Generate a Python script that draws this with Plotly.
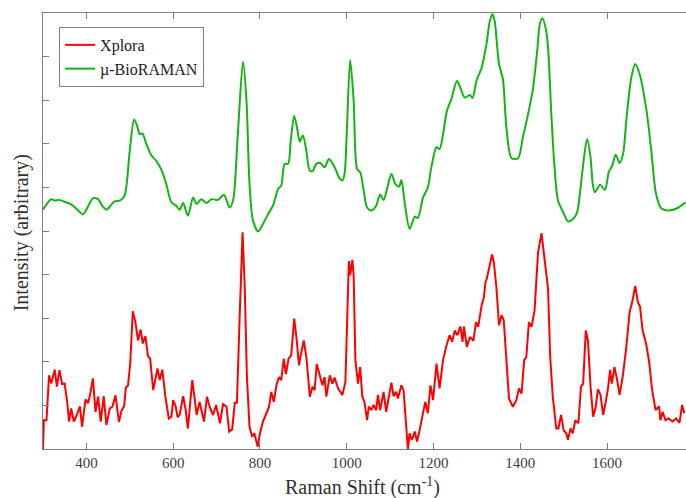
import plotly.graph_objects as go

# Raman shift (cm^-1) and intensity (arbitrary units, as plotted with offset)
xplora_shift = [300, 302, 308, 314, 319, 327, 332, 338, 344, 350, 356, 360, 365, 371, 378, 385, 390, 398, 404, 409,
                415, 421, 427, 433, 440, 446, 454, 460, 467, 475, 481, 487, 491, 496, 501, 507, 513, 519, 525, 530,
                536, 542, 547, 554, 564, 569, 575, 582, 590, 596, 600, 606, 610, 615, 623, 629, 634, 640, 644, 650,
                654, 661, 666, 671, 678, 684, 692, 699, 703, 708, 715, 723, 729, 736, 742, 747, 753, 760, 765, 770,
                776, 782, 787, 795, 800, 807, 815, 821, 826, 832, 838, 844, 849, 855, 860, 866, 872, 879, 884, 890,
                894, 901, 907, 915, 921, 926, 931, 938, 944, 949, 953, 961, 967, 972, 980, 990, 997, 1001, 1005, 1008,
                1013, 1016, 1020, 1026, 1031, 1036, 1041, 1047, 1051, 1057, 1062, 1068, 1072, 1077, 1085, 1091, 1097, 1103, 1108, 1114,
                1118, 1126, 1131, 1136, 1141, 1145, 1150, 1157, 1162, 1168, 1174, 1181, 1187, 1193, 1199, 1207, 1214, 1222, 1229, 1237,
                1243, 1249, 1255, 1262, 1267, 1270, 1277, 1284, 1292, 1298, 1303, 1311, 1316, 1320, 1323, 1328, 1335, 1339, 1345, 1351,
                1357, 1362, 1368, 1374, 1383, 1391, 1397, 1403, 1409, 1414, 1420, 1426, 1433, 1441, 1449, 1456, 1464, 1469, 1475, 1483,
                1488, 1494, 1500, 1506, 1510, 1516, 1521, 1527, 1534, 1540, 1545, 1551, 1556, 1562, 1568, 1574, 1579, 1585, 1591, 1597,
                1602, 1607, 1611, 1617, 1622, 1629, 1636, 1644, 1652, 1658, 1665, 1671, 1676, 1682, 1690, 1697, 1704, 1712, 1720, 1723,
                1728, 1735, 1742, 1751, 1759, 1767, 1773, 1778]
xplora_int = [0.00, 0.66, 0.66, 1.69, 1.50, 1.82, 1.43, 1.81, 1.49, 1.50, 1.05, 0.63, 0.93, 0.63, 0.78, 0.98, 0.51, 1.14, 1.05, 1.27,
              1.62, 0.85, 1.20, 0.63, 1.21, 0.55, 0.93, 0.97, 1.23, 0.62, 0.88, 0.98, 1.41, 1.46, 1.96, 3.16, 2.91, 2.49, 2.74, 2.42,
              2.59, 2.13, 2.07, 1.35, 1.85, 1.58, 1.82, 1.20, 0.70, 0.74, 1.12, 0.97, 0.73, 0.78, 1.21, 0.89, 0.47, 1.20, 1.58, 1.12,
              0.78, 1.08, 0.82, 0.63, 1.20, 0.97, 0.78, 1.01, 0.82, 0.59, 1.03, 0.97, 0.40, 0.45, 1.06, 1.06, 2.95, 4.97, 3.71, 1.65,
              0.51, 0.28, 0.36, 0.05, 0.36, 0.63, 0.82, 0.97, 1.31, 1.08, 1.46, 1.65, 1.58, 2.07, 1.72, 2.07, 2.15, 2.99, 2.57, 1.92,
              2.15, 2.49, 2.11, 1.20, 1.43, 1.35, 1.95, 1.65, 1.46, 1.65, 1.20, 1.69, 1.50, 1.64, 1.39, 1.24, 1.54, 2.95, 4.31, 3.98,
              4.34, 3.98, 2.04, 1.50, 1.88, 1.20, 1.08, 0.66, 0.97, 0.89, 1.01, 0.89, 1.24, 0.89, 1.31, 0.85, 1.21, 1.52, 1.21, 1.31,
              1.16, 1.46, 1.35, 0.66, 0.00, 0.36, 0.21, 0.40, 0.17, 0.43, 0.74, 1.08, 0.82, 1.46, 1.12, 1.96, 1.39, 2.04, 2.34, 2.61,
              2.46, 2.72, 2.61, 2.81, 2.46, 2.81, 2.34, 2.57, 2.48, 2.91, 2.80, 3.30, 3.47, 3.83, 3.91, 4.11, 4.46, 4.29, 3.71, 2.84,
              3.07, 2.95, 1.96, 1.16, 0.97, 1.12, 1.39, 1.27, 2.04, 2.11, 2.91, 2.80, 3.18, 4.51, 4.95, 4.40, 3.68, 2.11, 1.20, 0.47,
              0.47, 0.78, 0.43, 0.36, 0.21, 0.47, 0.36, 0.66, 0.59, 1.43, 1.50, 2.72, 2.49, 1.43, 0.74, 0.97, 1.37, 1.24, 0.78, 1.08,
              1.37, 1.81, 1.50, 1.88, 1.65, 1.24, 1.65, 2.30, 3.14, 3.37, 3.74, 3.37, 3.27, 2.72, 2.42, 2.00, 1.35, 0.89, 0.98, 0.66,
              0.85, 0.66, 0.70, 0.63, 0.70, 0.60, 1.01, 0.82]

bio_shift = [300, 319, 327, 338, 350, 365, 381, 392, 400, 415, 427, 438, 447, 458, 465, 478, 488, 500, 510, 517,
             523, 529, 538, 550, 561, 574, 584, 596, 607, 615, 623, 634, 646, 654, 665, 677, 688, 703, 717, 730,
             738, 749, 761, 769, 776, 784, 796, 807, 819, 830, 842, 849, 857, 865, 871, 879, 886, 892, 899, 907,
             915, 922, 930, 939, 949, 959, 968, 976, 982, 990, 995, 1000, 1008, 1016, 1024, 1031, 1038, 1047, 1057, 1068,
             1077, 1085, 1093, 1103, 1112, 1121, 1126, 1134, 1145, 1157, 1164, 1176, 1187, 1195, 1207, 1214, 1222, 1231, 1241, 1254,
             1262, 1272, 1284, 1290, 1299, 1311, 1322, 1330, 1336, 1341, 1351, 1360, 1368, 1380, 1395, 1406, 1418, 1429, 1439, 1445,
             1451, 1459, 1464, 1472, 1479, 1487, 1499, 1510, 1522, 1531, 1539, 1547, 1554, 1562, 1567, 1572, 1584, 1595, 1604, 1612,
             1620, 1629, 1637, 1645, 1656, 1665, 1675, 1691, 1702, 1713, 1725, 1740, 1759, 1781]
bio_int = [5.49, 5.73, 5.70, 5.71, 5.67, 5.61, 5.47, 5.38, 5.49, 5.75, 5.73, 5.56, 5.49, 5.61, 5.68, 5.70, 5.81, 6.84, 7.56, 7.41,
           7.22, 7.24, 7.00, 6.73, 6.61, 6.38, 6.08, 5.66, 5.58, 5.49, 5.64, 5.35, 5.77, 5.62, 5.73, 5.64, 5.73, 5.71, 5.83, 5.54,
           5.70, 7.22, 8.89, 7.99, 6.08, 5.24, 4.99, 5.16, 5.39, 5.58, 5.97, 6.04, 6.54, 6.54, 7.07, 7.64, 7.34, 7.05, 7.19, 6.84,
           6.38, 6.38, 6.54, 6.56, 6.46, 6.65, 6.54, 6.38, 6.23, 6.16, 6.31, 7.22, 8.92, 7.99, 6.42, 6.35, 6.00, 5.54, 5.47, 5.58,
           5.84, 5.71, 5.97, 6.31, 6.08, 6.02, 6.17, 5.62, 5.05, 5.33, 5.30, 5.77, 6.00, 6.46, 6.92, 6.88, 7.22, 7.76, 8.02, 8.44,
           8.28, 8.06, 8.12, 8.05, 8.44, 8.75, 9.28, 9.82, 9.97, 9.82, 8.83, 8.48, 7.38, 6.67, 6.67, 7.15, 7.68, 8.25, 9.13, 9.74,
           9.88, 9.63, 9.21, 7.60, 6.46, 5.70, 5.43, 5.22, 5.28, 5.43, 6.00, 6.69, 7.11, 6.69, 6.08, 5.89, 6.06, 5.94, 6.35, 6.50,
           6.75, 6.56, 6.77, 7.60, 8.52, 8.83, 8.60, 7.76, 6.84, 5.85, 5.52, 5.47, 5.51, 5.66]

x_tick_vals = [400, 600, 800, 1000, 1200, 1400, 1600]
y_tick_vals = [1, 2, 3, 4, 5, 6, 7, 8, 9]

serif = "Liberation Serif, Times New Roman, serif"

fig = go.Figure()
fig.add_trace(go.Scatter(x=xplora_shift, y=xplora_int, mode="lines", name="Xplora",
                         line=dict(color="#FF0000", width=2)))
fig.add_trace(go.Scatter(x=bio_shift, y=bio_int, mode="lines", name="µ-BioRAMAN",
                         line=dict(color="#14B414", width=2, shape="spline", smoothing=0.8)))

fig.update_layout(
    width=686, height=498,
    margin=dict(l=43, r=0, t=13, b=49),
    paper_bgcolor="white", plot_bgcolor="white",
    showlegend=True,
    legend=dict(x=0.025, y=0.968, xanchor="left", yanchor="top",
                bgcolor="white", bordercolor="#808080", borderwidth=1,
                font=dict(family=serif, size=16, color="#202020"),
                itemwidth=30, tracegroupgap=0),
    xaxis=dict(range=[300, 1782], tickvals=x_tick_vals, ticks="inside", ticklen=6,
               tickcolor="#808080", showline=True, linecolor="#808080", linewidth=1,
               mirror="ticks", showgrid=False, zeroline=False,
               tickfont=dict(family=serif, size=15, color="#404040")),
    yaxis=dict(range=[0, 10], tickvals=y_tick_vals, ticks="inside", ticklen=6,
               tickcolor="#808080", showline=True, linecolor="#808080", linewidth=1,
               showticklabels=False, showgrid=False, zeroline=False),
    annotations=[
        dict(text="Raman Shift (cm<sup>-1</sup>)", xref="paper", yref="paper",
             x=0.497, y=-0.087, xanchor="center", yanchor="middle", showarrow=False,
             font=dict(family=serif, size=20, color="#303030")),
        dict(text="Intensity (arbitrary)", xref="paper", yref="paper",
             x=-0.034, y=0.495, xanchor="center", yanchor="middle", showarrow=False,
             textangle=-90, font=dict(family=serif, size=20, color="#303030")),
    ],
)

fig.write_html("out.html", config={"displayModeBar": False},
               post_script="document.body.style.margin='0';document.body.style.overflow='hidden';")
